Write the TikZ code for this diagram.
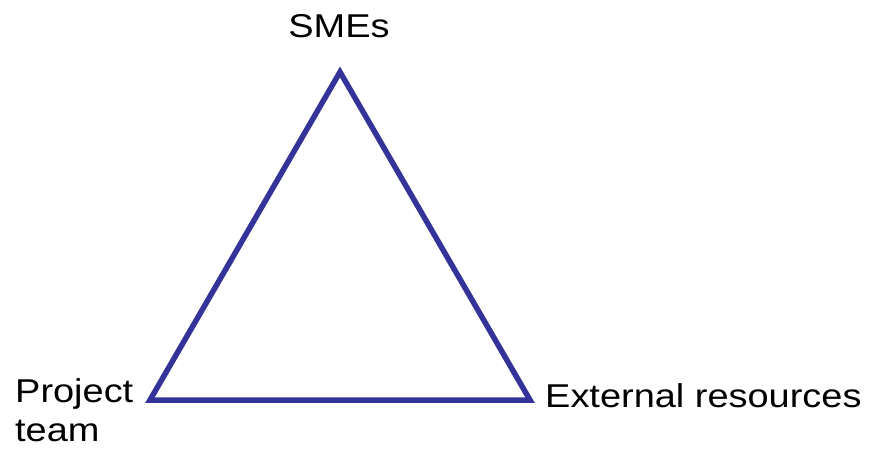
\documentclass[tikz,border=0pt]{standalone}
\usepackage{fontspec}
\setmainfont{Liberation Sans}[FakeStretch=1.15]
\definecolor{triblue}{RGB}{51,51,153}
\begin{document}
\begin{tikzpicture}[x=1pt, y=1pt,
    lbl/.style={inner sep=0pt, font=\fontsize{33}{39}\selectfont}]
            \useasboundingbox (0,0) rectangle (870,450);

            % corners of the triangle
            \coordinate (top) at (340, 378);
            \coordinate (left) at (150, 50);
            \coordinate (right) at (530, 50);

            \draw[triblue, line width=5.5pt, line join=miter] (top) -- (left) -- (right) -- cycle;

            \node[lbl, anchor=base] (smes) at (339, 412) {SMEs};
            \node[lbl, anchor=base west, align=left] (team) at (15, 9) {Project\\team};
            \node[lbl, anchor=base west] (ext) at (545, 43) {External resources};
        \end{tikzpicture}
\end{document}
